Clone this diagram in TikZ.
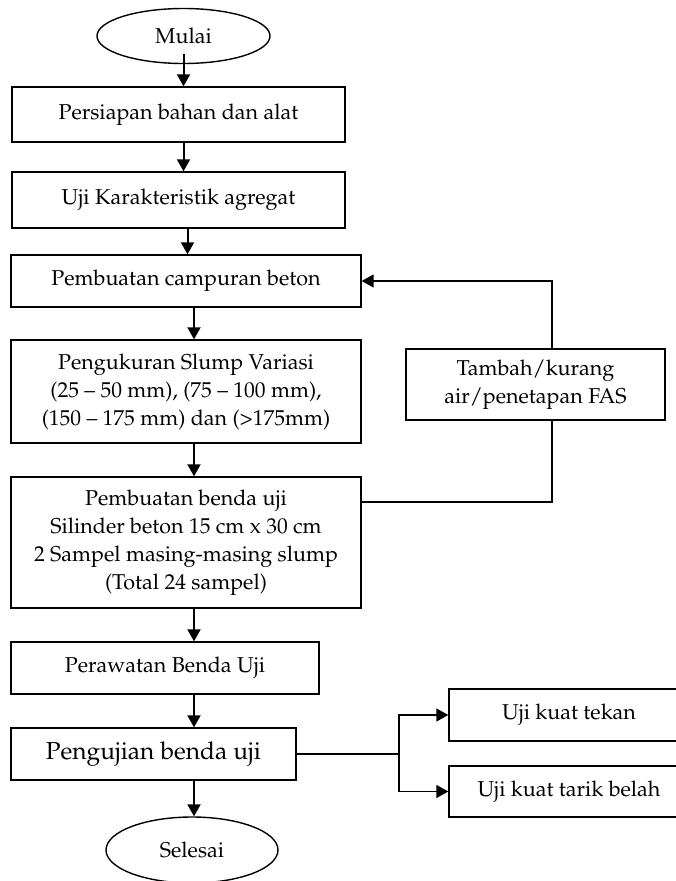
\documentclass[tikz,border=0pt]{standalone}
\usepackage[T1]{fontenc}
\usepackage{mathpazo}
\usetikzlibrary{shapes.geometric,arrows.meta}

\tikzset{
  kotak/.style={draw,line width=1.4pt,align=center,inner sep=0pt,
    font=\fontsize{21.5}{28}\selectfont},
  ujung/.style={ellipse,draw,line width=1.4pt,inner sep=0pt,
    font=\fontsize{21.5}{28}\selectfont},
  panah/.style={draw,line width=2pt,-{Triangle[width=13pt,length=12pt]}},
  garis/.style={line width=1.5pt}
}

\begin{document}
\begin{tikzpicture}[x=1pt,y=-1pt]

      \useasboundingbox (0,0) rectangle (675,881);

      \begin{scope}[every node/.style={kotak}]
        \node[ujung,minimum width=173pt,minimum height=55pt] (mulai) at (183.5,36) {Mulai};
        \node[minimum width=333pt,minimum height=55pt] (persiapan) at (178.5,114.5) {Persiapan bahan dan alat};
        \node[minimum width=333pt,minimum height=56pt] (agregat) at (178.5,200) {Uji Karakteristik agregat};
        \node[minimum width=350pt,minimum height=52pt] (campuran) at (186,281) {Pembuatan campuran beton};
        \node[minimum width=350pt,minimum height=103pt] (slump) at (186,391.5)
          {Pengukuran Slump Variasi\\(25 -- 50 mm), (75 -- 100 mm),\\(150 -- 175 mm) dan (>175mm)};
        \node[minimum width=350pt,minimum height=131pt] (benda) at (186,542.5)
          {Pembuatan benda uji\\Silinder beton 15 cm x 30 cm\\2 Sampel masing-masing slump\\(Total 24 sampel)};
        \node[minimum width=259pt,minimum height=71pt] (tambah) at (535.5,384.5) {Tambah/kurang\\air/penetapan FAS};
        \node[minimum width=308pt,minimum height=52pt] (rawat) at (165,668) {Perawatan Benda Uji};
        \node[minimum width=285pt,minimum height=52pt,font=\fontsize{24.5}{30}\selectfont] (uji) at (153.5,754) {Pengujian benda uji};
        \node[minimum width=240pt,minimum height=52pt] (tekan) at (569,715) {Uji kuat tekan};
        \node[minimum width=240pt,minimum height=51pt] (tarik) at (569,791.5) {Uji kuat tarik belah};
        \node[ujung,minimum width=172pt,minimum height=66pt] (selesai) at (192,850) {Selesai};
      \end{scope}

      \coordinate (jalur) at (194,0);
      \coordinate (balik) at (552,281);
      \coordinate (balikb) at (552,502);
      \coordinate (cabang) at (399,754);

      \begin{scope}[every edge/.style={panah}]
        \path ([yshift=10pt]mulai.south) edge (mulai.south |- persiapan.north);
        \path (mulai.south |- persiapan.south) edge (mulai.south |- agregat.north);
        \path ([xshift=4pt]mulai.south |- agregat.south) edge ([xshift=4pt]mulai.south |- campuran.north);
        \path (jalur |- campuran.south) edge (jalur |- slump.north);
        \path (jalur |- slump.south) edge (jalur |- benda.north);
        \path (jalur |- benda.south) edge (jalur |- rawat.north);
        \path (jalur |- rawat.south) edge (jalur |- uji.north);
        \path (jalur |- uji.south) edge (jalur |- selesai.north);
      \end{scope}

      % putaran tambah/kurang air
      \draw[garis] (benda.east |- balikb) -- (balikb) -- (balikb |- tambah.south);
      \draw[panah,line width=1.5pt] (balik |- tambah.north) -- (balik) -- (campuran.east);

      % cabang pengujian
      \draw[garis] (uji.east) -- (cabang);
      \draw[panah,line width=1.5pt] (cabang) |- (tekan.west);
      \draw[panah,line width=1.5pt] (cabang) |- (tarik.west);

    \end{tikzpicture}
\end{document}
